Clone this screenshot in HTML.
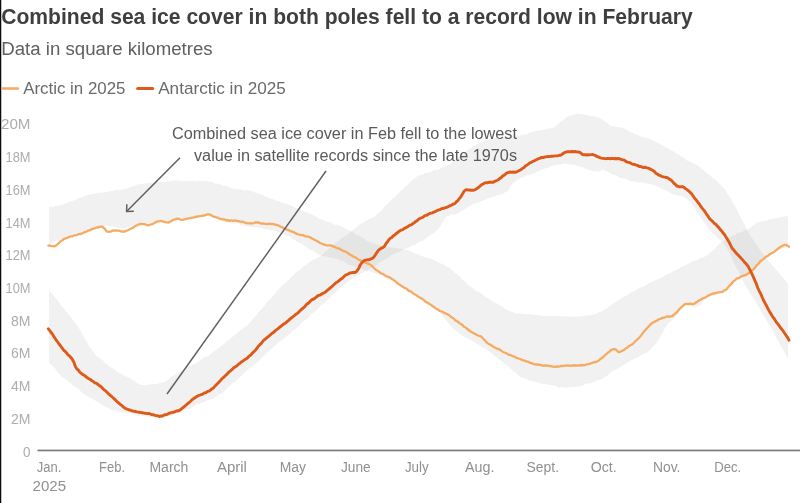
<!DOCTYPE html>
<html lang="en"><head><meta charset="utf-8"><title>Sea ice cover</title>
<style>html,body{margin:0;padding:0;background:#fff;overflow:hidden}body{width:800px;height:503px}</style></head>
<body>
<svg width="800" height="503" viewBox="0 0 800 503" style="display:block;font-family:'Liberation Sans',sans-serif">
<rect width="800" height="503" fill="#fff"/>
<rect x="0" y="0" width="1.25" height="503" fill="#0a0a0a"/>
<defs><clipPath id="arcclip"><path d="M49.0,207.3 L51.0,206.8 L53.0,207.0 L55.0,206.1 L57.0,206.2 L59.0,205.6 L61.0,204.8 L63.0,204.7 L65.0,203.6 L67.0,203.2 L69.0,202.0 L71.0,201.2 L73.0,200.7 L75.0,200.3 L77.0,198.8 L79.0,198.0 L81.0,197.5 L83.0,196.9 L85.0,195.7 L87.0,194.9 L89.0,195.0 L91.0,193.7 L93.0,194.2 L95.0,193.4 L97.0,193.0 L99.0,192.8 L101.0,192.6 L103.0,192.8 L105.0,191.9 L107.0,191.9 L109.0,191.6 L111.0,191.0 L113.0,190.9 L115.0,190.1 L117.0,189.9 L119.0,189.8 L121.0,190.0 L123.0,189.4 L125.0,188.8 L127.0,188.5 L129.0,187.7 L131.0,186.8 L133.0,186.6 L135.0,185.7 L137.0,184.6 L139.0,184.3 L141.0,183.8 L143.0,183.9 L145.0,183.6 L147.0,183.0 L149.0,183.6 L151.0,182.5 L153.0,182.7 L155.0,182.8 L157.0,182.1 L159.0,182.3 L161.0,181.6 L163.0,182.1 L165.0,181.9 L167.0,181.4 L169.0,181.4 L171.0,180.6 L173.0,180.8 L175.0,180.6 L177.0,180.6 L179.0,180.6 L181.0,181.1 L183.0,181.3 L185.0,180.9 L187.0,181.2 L189.0,180.6 L191.0,181.2 L193.0,181.1 L195.0,181.5 L197.0,181.3 L199.0,180.8 L201.0,180.9 L203.0,181.3 L205.0,180.8 L207.0,181.6 L209.0,181.6 L211.0,181.9 L213.0,182.3 L215.0,183.5 L217.0,183.4 L219.0,184.0 L221.0,184.8 L223.0,185.8 L225.0,185.6 L227.0,186.5 L229.0,187.1 L231.0,188.0 L233.0,188.4 L235.0,188.9 L237.0,188.8 L239.0,189.3 L241.0,189.5 L243.0,190.3 L245.0,190.6 L247.0,190.1 L249.0,190.4 L251.0,191.0 L253.0,191.6 L255.0,192.5 L257.0,193.3 L259.0,193.7 L261.0,194.1 L263.0,195.3 L265.0,196.0 L267.0,197.0 L269.0,198.2 L271.0,198.7 L273.0,199.3 L275.0,200.1 L277.0,200.9 L279.0,200.9 L281.0,202.3 L283.0,202.9 L285.0,203.6 L287.0,204.3 L289.0,204.7 L291.0,205.6 L293.0,206.3 L295.0,207.8 L297.0,208.2 L299.0,209.1 L301.0,210.1 L303.0,210.9 L305.0,211.9 L307.0,212.5 L309.0,213.2 L311.0,214.2 L313.0,215.0 L315.0,216.2 L317.0,216.9 L319.0,218.7 L321.0,219.4 L323.0,219.8 L325.0,220.8 L327.0,221.6 L329.0,222.3 L331.0,222.6 L333.0,224.0 L335.0,224.7 L337.0,224.8 L339.0,225.6 L341.0,226.0 L343.0,227.0 L345.0,228.2 L347.0,229.2 L349.0,230.8 L351.0,231.2 L353.0,232.1 L355.0,234.2 L357.0,234.9 L359.0,235.6 L361.0,237.2 L363.0,237.8 L365.0,239.4 L367.0,240.9 L369.0,241.8 L371.0,242.6 L373.0,243.0 L375.0,243.9 L377.0,244.3 L379.0,245.4 L381.0,245.6 L383.0,246.2 L385.0,246.1 L387.0,246.2 L389.0,247.0 L391.0,247.4 L393.0,247.6 L395.0,247.8 L397.0,248.2 L399.0,248.5 L401.0,248.5 L403.0,249.3 L405.0,249.7 L407.0,250.0 L409.0,250.6 L411.0,251.6 L413.0,252.2 L415.0,253.3 L417.0,254.3 L419.0,254.6 L421.0,255.8 L423.0,256.6 L425.0,257.3 L427.0,257.5 L429.0,258.1 L431.0,258.8 L433.0,259.5 L435.0,260.3 L437.0,261.5 L439.0,262.7 L441.0,263.5 L443.0,264.1 L445.0,265.4 L447.0,266.7 L449.0,267.2 L451.0,269.3 L453.0,271.2 L455.0,272.8 L457.0,274.6 L459.0,276.1 L461.0,277.6 L463.0,280.0 L465.0,281.4 L467.0,283.7 L469.0,285.6 L471.0,286.7 L473.0,288.3 L475.0,290.2 L477.0,291.4 L479.0,292.1 L481.0,293.3 L483.0,294.7 L485.0,296.7 L487.0,297.9 L489.0,298.4 L491.0,300.4 L493.0,301.7 L495.0,302.7 L497.0,303.6 L499.0,305.1 L501.0,306.0 L503.0,307.1 L505.0,309.3 L507.0,310.0 L509.0,310.7 L511.0,311.8 L513.0,312.0 L515.0,312.9 L517.0,313.4 L519.0,313.2 L521.0,313.5 L523.0,313.9 L525.0,314.0 L527.0,314.5 L529.0,314.3 L531.0,314.6 L533.0,314.4 L535.0,315.3 L537.0,314.8 L539.0,315.1 L541.0,315.4 L543.0,315.9 L545.0,315.6 L547.0,316.2 L549.0,315.9 L551.0,316.1 L553.0,316.2 L555.0,315.7 L557.0,316.2 L559.0,316.0 L561.0,315.9 L563.0,316.7 L565.0,316.1 L567.0,316.4 L569.0,316.7 L571.0,316.5 L573.0,316.3 L575.0,316.5 L577.0,316.5 L579.0,316.7 L581.0,315.9 L583.0,316.2 L585.0,315.7 L587.0,315.4 L589.0,315.6 L591.0,314.9 L593.0,314.4 L595.0,314.1 L597.0,313.6 L599.0,312.3 L601.0,311.7 L603.0,310.5 L605.0,309.4 L607.0,308.3 L609.0,306.6 L611.0,305.3 L613.0,303.7 L615.0,302.8 L617.0,301.1 L619.0,300.0 L621.0,298.8 L623.0,297.0 L625.0,296.2 L627.0,295.4 L629.0,294.2 L631.0,292.4 L633.0,291.4 L635.0,290.6 L637.0,289.2 L639.0,288.3 L641.0,287.1 L643.0,286.7 L645.0,285.8 L647.0,284.8 L649.0,283.1 L651.0,282.6 L653.0,281.6 L655.0,280.1 L657.0,279.8 L659.0,278.9 L661.0,277.2 L663.0,276.9 L665.0,275.4 L667.0,274.5 L669.0,274.0 L671.0,272.8 L673.0,271.2 L675.0,270.4 L677.0,269.5 L679.0,268.3 L681.0,267.2 L683.0,266.3 L685.0,265.7 L687.0,264.0 L689.0,263.6 L691.0,262.4 L693.0,261.0 L695.0,260.5 L697.0,259.9 L699.0,259.0 L701.0,257.7 L703.0,257.7 L705.0,256.5 L707.0,255.6 L709.0,253.5 L711.0,252.2 L713.0,250.2 L715.0,248.8 L717.0,246.1 L719.0,243.9 L721.0,242.3 L723.0,241.3 L725.0,239.8 L727.0,238.1 L729.0,237.0 L731.0,236.9 L733.0,235.6 L735.0,234.9 L737.0,233.5 L739.0,232.6 L741.0,232.5 L743.0,231.3 L745.0,230.1 L747.0,229.9 L749.0,228.4 L751.0,227.2 L753.0,225.0 L755.0,224.4 L757.0,222.6 L759.0,222.6 L761.0,221.6 L763.0,221.0 L765.0,220.8 L767.0,220.7 L769.0,219.6 L771.0,219.0 L773.0,219.1 L775.0,218.4 L777.0,218.0 L779.0,217.7 L781.0,217.1 L783.0,216.8 L785.0,216.5 L787.0,216.0 L788.0,216.3 L788.0,245.9 L787.0,246.6 L785.0,246.9 L783.0,248.4 L781.0,249.5 L779.0,249.6 L777.0,250.7 L775.0,252.4 L773.0,253.7 L771.0,254.6 L769.0,256.1 L767.0,257.5 L765.0,258.5 L763.0,259.7 L761.0,261.4 L759.0,263.5 L757.0,266.5 L755.0,267.9 L753.0,270.2 L751.0,271.8 L749.0,274.2 L747.0,275.1 L745.0,275.8 L743.0,276.5 L741.0,277.3 L739.0,278.5 L737.0,280.1 L735.0,280.8 L733.0,283.1 L731.0,284.7 L729.0,287.0 L727.0,289.7 L725.0,290.8 L723.0,292.6 L721.0,292.5 L719.0,293.3 L717.0,293.9 L715.0,294.4 L713.0,294.3 L711.0,295.6 L709.0,296.1 L707.0,297.1 L705.0,298.5 L703.0,301.3 L701.0,304.5 L699.0,305.9 L697.0,306.4 L695.0,306.9 L693.0,306.9 L691.0,306.0 L689.0,304.8 L687.0,304.8 L685.0,305.9 L683.0,307.8 L681.0,309.5 L679.0,312.2 L677.0,315.2 L675.0,317.9 L673.0,319.4 L671.0,321.3 L669.0,322.6 L667.0,324.8 L665.0,327.8 L663.0,332.2 L661.0,335.6 L659.0,338.9 L657.0,341.9 L655.0,344.5 L653.0,346.5 L651.0,348.7 L649.0,351.1 L647.0,352.5 L645.0,353.3 L643.0,354.2 L641.0,355.3 L639.0,356.6 L637.0,357.9 L635.0,358.3 L633.0,359.9 L631.0,360.3 L629.0,361.8 L627.0,362.8 L625.0,364.3 L623.0,365.3 L621.0,366.6 L619.0,368.1 L617.0,369.1 L615.0,370.1 L613.0,371.0 L611.0,372.2 L609.0,373.7 L607.0,375.8 L605.0,377.0 L603.0,378.2 L601.0,379.4 L599.0,379.9 L597.0,380.3 L595.0,381.6 L593.0,382.2 L591.0,383.2 L589.0,383.6 L587.0,383.5 L585.0,384.1 L583.0,385.6 L581.0,386.1 L579.0,386.7 L577.0,386.6 L575.0,386.9 L573.0,387.0 L571.0,387.2 L569.0,387.2 L567.0,387.9 L565.0,387.6 L563.0,387.5 L561.0,387.1 L559.0,387.7 L557.0,386.6 L555.0,385.8 L553.0,385.6 L551.0,385.1 L549.0,384.8 L547.0,384.3 L545.0,384.0 L543.0,384.0 L541.0,383.7 L539.0,383.0 L537.0,382.3 L535.0,381.8 L533.0,381.2 L531.0,381.0 L529.0,380.2 L527.0,379.6 L525.0,378.6 L523.0,377.9 L521.0,377.2 L519.0,375.7 L517.0,373.6 L515.0,372.3 L513.0,371.2 L511.0,368.9 L509.0,367.3 L507.0,365.6 L505.0,364.1 L503.0,362.5 L501.0,360.6 L499.0,359.4 L497.0,357.4 L495.0,356.5 L493.0,354.7 L491.0,352.7 L489.0,351.3 L487.0,350.0 L485.0,348.3 L483.0,347.8 L481.0,345.7 L479.0,344.7 L477.0,343.8 L475.0,342.8 L473.0,341.3 L471.0,340.5 L469.0,338.7 L467.0,338.3 L465.0,337.0 L463.0,336.1 L461.0,334.7 L459.0,333.0 L457.0,331.6 L455.0,330.1 L453.0,328.4 L451.0,325.9 L449.0,323.6 L447.0,321.5 L445.0,318.6 L443.0,316.0 L441.0,314.2 L439.0,311.0 L437.0,309.3 L435.0,306.9 L433.0,305.5 L431.0,304.5 L429.0,303.4 L427.0,302.2 L425.0,301.1 L423.0,300.2 L421.0,298.3 L419.0,296.9 L417.0,295.5 L415.0,294.8 L413.0,293.4 L411.0,292.3 L409.0,290.2 L407.0,289.7 L405.0,288.4 L403.0,286.4 L401.0,286.0 L399.0,284.2 L397.0,282.8 L395.0,281.2 L393.0,280.0 L391.0,279.0 L389.0,278.1 L387.0,277.0 L385.0,276.2 L383.0,275.7 L381.0,275.3 L379.0,273.9 L377.0,273.7 L375.0,273.3 L373.0,272.4 L371.0,272.1 L369.0,270.8 L367.0,271.1 L365.0,270.2 L363.0,269.2 L361.0,269.1 L359.0,268.1 L357.0,268.2 L355.0,266.8 L353.0,266.1 L351.0,265.4 L349.0,265.0 L347.0,263.7 L345.0,262.3 L343.0,260.7 L341.0,260.7 L339.0,260.0 L337.0,258.6 L335.0,258.8 L333.0,257.7 L331.0,257.7 L329.0,257.3 L327.0,257.0 L325.0,256.3 L323.0,256.2 L321.0,255.5 L319.0,254.6 L317.0,253.3 L315.0,252.0 L313.0,250.9 L311.0,250.3 L309.0,248.9 L307.0,248.1 L305.0,246.3 L303.0,244.8 L301.0,243.4 L299.0,242.7 L297.0,241.4 L295.0,240.2 L293.0,238.9 L291.0,237.5 L289.0,236.3 L287.0,235.5 L285.0,235.1 L283.0,234.1 L281.0,232.9 L279.0,232.7 L277.0,231.6 L275.0,230.9 L273.0,230.5 L271.0,230.5 L269.0,229.3 L267.0,229.5 L265.0,228.9 L263.0,228.4 L261.0,228.3 L259.0,228.0 L257.0,226.9 L255.0,227.2 L253.0,227.1 L251.0,226.9 L249.0,226.6 L247.0,226.3 L245.0,226.3 L243.0,225.2 L241.0,225.1 L239.0,224.3 L237.0,223.5 L235.0,223.3 L233.0,223.5 L231.0,223.2 L229.0,223.2 L227.0,222.6 L225.0,222.3 L223.0,221.7 L221.0,221.0 L219.0,219.8 L217.0,219.0 L215.0,217.6 L213.0,217.0 L211.0,215.4 L209.0,214.6 L207.0,215.0 L205.0,215.3 L203.0,215.0 L201.0,216.0 L199.0,216.4 L197.0,216.1 L195.0,217.3 L193.0,217.0 L191.0,217.4 L189.0,218.1 L187.0,218.2 L185.0,218.2 L183.0,218.3 L181.0,218.0 L179.0,218.1 L177.0,217.7 L175.0,218.4 L173.0,219.3 L171.0,220.4 L169.0,220.9 L167.0,220.4 L165.0,220.3 L163.0,219.7 L161.0,220.0 L159.0,219.8 L157.0,220.8 L155.0,221.7 L153.0,222.6 L151.0,222.9 L149.0,223.3 L147.0,223.2 L145.0,223.7 L143.0,222.9 L141.0,223.1 L139.0,223.6 L137.0,224.1 L135.0,224.4 L133.0,225.6 L131.0,226.3 L129.0,227.3 L127.0,227.6 L125.0,227.7 L123.0,227.7 L121.0,227.9 L119.0,227.9 L117.0,227.6 L115.0,226.6 L113.0,226.4 L111.0,226.1 L109.0,226.4 L107.0,225.6 L105.0,225.7 L103.0,225.7 L101.0,226.3 L99.0,226.9 L97.0,227.7 L95.0,228.4 L93.0,229.2 L91.0,229.4 L89.0,230.8 L87.0,231.2 L85.0,231.7 L83.0,232.2 L81.0,233.3 L79.0,233.7 L77.0,234.3 L75.0,235.3 L73.0,235.3 L71.0,236.8 L69.0,237.0 L67.0,237.3 L65.0,238.4 L63.0,239.2 L61.0,239.2 L59.0,240.1 L57.0,240.6 L55.0,241.6 L53.0,242.2 L51.0,243.3 L49.0,243.8Z"/></clipPath></defs>
<path d="M49.0,207.3 L51.0,206.8 L53.0,207.0 L55.0,206.1 L57.0,206.2 L59.0,205.6 L61.0,204.8 L63.0,204.7 L65.0,203.6 L67.0,203.2 L69.0,202.0 L71.0,201.2 L73.0,200.7 L75.0,200.3 L77.0,198.8 L79.0,198.0 L81.0,197.5 L83.0,196.9 L85.0,195.7 L87.0,194.9 L89.0,195.0 L91.0,193.7 L93.0,194.2 L95.0,193.4 L97.0,193.0 L99.0,192.8 L101.0,192.6 L103.0,192.8 L105.0,191.9 L107.0,191.9 L109.0,191.6 L111.0,191.0 L113.0,190.9 L115.0,190.1 L117.0,189.9 L119.0,189.8 L121.0,190.0 L123.0,189.4 L125.0,188.8 L127.0,188.5 L129.0,187.7 L131.0,186.8 L133.0,186.6 L135.0,185.7 L137.0,184.6 L139.0,184.3 L141.0,183.8 L143.0,183.9 L145.0,183.6 L147.0,183.0 L149.0,183.6 L151.0,182.5 L153.0,182.7 L155.0,182.8 L157.0,182.1 L159.0,182.3 L161.0,181.6 L163.0,182.1 L165.0,181.9 L167.0,181.4 L169.0,181.4 L171.0,180.6 L173.0,180.8 L175.0,180.6 L177.0,180.6 L179.0,180.6 L181.0,181.1 L183.0,181.3 L185.0,180.9 L187.0,181.2 L189.0,180.6 L191.0,181.2 L193.0,181.1 L195.0,181.5 L197.0,181.3 L199.0,180.8 L201.0,180.9 L203.0,181.3 L205.0,180.8 L207.0,181.6 L209.0,181.6 L211.0,181.9 L213.0,182.3 L215.0,183.5 L217.0,183.4 L219.0,184.0 L221.0,184.8 L223.0,185.8 L225.0,185.6 L227.0,186.5 L229.0,187.1 L231.0,188.0 L233.0,188.4 L235.0,188.9 L237.0,188.8 L239.0,189.3 L241.0,189.5 L243.0,190.3 L245.0,190.6 L247.0,190.1 L249.0,190.4 L251.0,191.0 L253.0,191.6 L255.0,192.5 L257.0,193.3 L259.0,193.7 L261.0,194.1 L263.0,195.3 L265.0,196.0 L267.0,197.0 L269.0,198.2 L271.0,198.7 L273.0,199.3 L275.0,200.1 L277.0,200.9 L279.0,200.9 L281.0,202.3 L283.0,202.9 L285.0,203.6 L287.0,204.3 L289.0,204.7 L291.0,205.6 L293.0,206.3 L295.0,207.8 L297.0,208.2 L299.0,209.1 L301.0,210.1 L303.0,210.9 L305.0,211.9 L307.0,212.5 L309.0,213.2 L311.0,214.2 L313.0,215.0 L315.0,216.2 L317.0,216.9 L319.0,218.7 L321.0,219.4 L323.0,219.8 L325.0,220.8 L327.0,221.6 L329.0,222.3 L331.0,222.6 L333.0,224.0 L335.0,224.7 L337.0,224.8 L339.0,225.6 L341.0,226.0 L343.0,227.0 L345.0,228.2 L347.0,229.2 L349.0,230.8 L351.0,231.2 L353.0,232.1 L355.0,234.2 L357.0,234.9 L359.0,235.6 L361.0,237.2 L363.0,237.8 L365.0,239.4 L367.0,240.9 L369.0,241.8 L371.0,242.6 L373.0,243.0 L375.0,243.9 L377.0,244.3 L379.0,245.4 L381.0,245.6 L383.0,246.2 L385.0,246.1 L387.0,246.2 L389.0,247.0 L391.0,247.4 L393.0,247.6 L395.0,247.8 L397.0,248.2 L399.0,248.5 L401.0,248.5 L403.0,249.3 L405.0,249.7 L407.0,250.0 L409.0,250.6 L411.0,251.6 L413.0,252.2 L415.0,253.3 L417.0,254.3 L419.0,254.6 L421.0,255.8 L423.0,256.6 L425.0,257.3 L427.0,257.5 L429.0,258.1 L431.0,258.8 L433.0,259.5 L435.0,260.3 L437.0,261.5 L439.0,262.7 L441.0,263.5 L443.0,264.1 L445.0,265.4 L447.0,266.7 L449.0,267.2 L451.0,269.3 L453.0,271.2 L455.0,272.8 L457.0,274.6 L459.0,276.1 L461.0,277.6 L463.0,280.0 L465.0,281.4 L467.0,283.7 L469.0,285.6 L471.0,286.7 L473.0,288.3 L475.0,290.2 L477.0,291.4 L479.0,292.1 L481.0,293.3 L483.0,294.7 L485.0,296.7 L487.0,297.9 L489.0,298.4 L491.0,300.4 L493.0,301.7 L495.0,302.7 L497.0,303.6 L499.0,305.1 L501.0,306.0 L503.0,307.1 L505.0,309.3 L507.0,310.0 L509.0,310.7 L511.0,311.8 L513.0,312.0 L515.0,312.9 L517.0,313.4 L519.0,313.2 L521.0,313.5 L523.0,313.9 L525.0,314.0 L527.0,314.5 L529.0,314.3 L531.0,314.6 L533.0,314.4 L535.0,315.3 L537.0,314.8 L539.0,315.1 L541.0,315.4 L543.0,315.9 L545.0,315.6 L547.0,316.2 L549.0,315.9 L551.0,316.1 L553.0,316.2 L555.0,315.7 L557.0,316.2 L559.0,316.0 L561.0,315.9 L563.0,316.7 L565.0,316.1 L567.0,316.4 L569.0,316.7 L571.0,316.5 L573.0,316.3 L575.0,316.5 L577.0,316.5 L579.0,316.7 L581.0,315.9 L583.0,316.2 L585.0,315.7 L587.0,315.4 L589.0,315.6 L591.0,314.9 L593.0,314.4 L595.0,314.1 L597.0,313.6 L599.0,312.3 L601.0,311.7 L603.0,310.5 L605.0,309.4 L607.0,308.3 L609.0,306.6 L611.0,305.3 L613.0,303.7 L615.0,302.8 L617.0,301.1 L619.0,300.0 L621.0,298.8 L623.0,297.0 L625.0,296.2 L627.0,295.4 L629.0,294.2 L631.0,292.4 L633.0,291.4 L635.0,290.6 L637.0,289.2 L639.0,288.3 L641.0,287.1 L643.0,286.7 L645.0,285.8 L647.0,284.8 L649.0,283.1 L651.0,282.6 L653.0,281.6 L655.0,280.1 L657.0,279.8 L659.0,278.9 L661.0,277.2 L663.0,276.9 L665.0,275.4 L667.0,274.5 L669.0,274.0 L671.0,272.8 L673.0,271.2 L675.0,270.4 L677.0,269.5 L679.0,268.3 L681.0,267.2 L683.0,266.3 L685.0,265.7 L687.0,264.0 L689.0,263.6 L691.0,262.4 L693.0,261.0 L695.0,260.5 L697.0,259.9 L699.0,259.0 L701.0,257.7 L703.0,257.7 L705.0,256.5 L707.0,255.6 L709.0,253.5 L711.0,252.2 L713.0,250.2 L715.0,248.8 L717.0,246.1 L719.0,243.9 L721.0,242.3 L723.0,241.3 L725.0,239.8 L727.0,238.1 L729.0,237.0 L731.0,236.9 L733.0,235.6 L735.0,234.9 L737.0,233.5 L739.0,232.6 L741.0,232.5 L743.0,231.3 L745.0,230.1 L747.0,229.9 L749.0,228.4 L751.0,227.2 L753.0,225.0 L755.0,224.4 L757.0,222.6 L759.0,222.6 L761.0,221.6 L763.0,221.0 L765.0,220.8 L767.0,220.7 L769.0,219.6 L771.0,219.0 L773.0,219.1 L775.0,218.4 L777.0,218.0 L779.0,217.7 L781.0,217.1 L783.0,216.8 L785.0,216.5 L787.0,216.0 L788.0,216.3 L788.0,245.9 L787.0,246.6 L785.0,246.9 L783.0,248.4 L781.0,249.5 L779.0,249.6 L777.0,250.7 L775.0,252.4 L773.0,253.7 L771.0,254.6 L769.0,256.1 L767.0,257.5 L765.0,258.5 L763.0,259.7 L761.0,261.4 L759.0,263.5 L757.0,266.5 L755.0,267.9 L753.0,270.2 L751.0,271.8 L749.0,274.2 L747.0,275.1 L745.0,275.8 L743.0,276.5 L741.0,277.3 L739.0,278.5 L737.0,280.1 L735.0,280.8 L733.0,283.1 L731.0,284.7 L729.0,287.0 L727.0,289.7 L725.0,290.8 L723.0,292.6 L721.0,292.5 L719.0,293.3 L717.0,293.9 L715.0,294.4 L713.0,294.3 L711.0,295.6 L709.0,296.1 L707.0,297.1 L705.0,298.5 L703.0,301.3 L701.0,304.5 L699.0,305.9 L697.0,306.4 L695.0,306.9 L693.0,306.9 L691.0,306.0 L689.0,304.8 L687.0,304.8 L685.0,305.9 L683.0,307.8 L681.0,309.5 L679.0,312.2 L677.0,315.2 L675.0,317.9 L673.0,319.4 L671.0,321.3 L669.0,322.6 L667.0,324.8 L665.0,327.8 L663.0,332.2 L661.0,335.6 L659.0,338.9 L657.0,341.9 L655.0,344.5 L653.0,346.5 L651.0,348.7 L649.0,351.1 L647.0,352.5 L645.0,353.3 L643.0,354.2 L641.0,355.3 L639.0,356.6 L637.0,357.9 L635.0,358.3 L633.0,359.9 L631.0,360.3 L629.0,361.8 L627.0,362.8 L625.0,364.3 L623.0,365.3 L621.0,366.6 L619.0,368.1 L617.0,369.1 L615.0,370.1 L613.0,371.0 L611.0,372.2 L609.0,373.7 L607.0,375.8 L605.0,377.0 L603.0,378.2 L601.0,379.4 L599.0,379.9 L597.0,380.3 L595.0,381.6 L593.0,382.2 L591.0,383.2 L589.0,383.6 L587.0,383.5 L585.0,384.1 L583.0,385.6 L581.0,386.1 L579.0,386.7 L577.0,386.6 L575.0,386.9 L573.0,387.0 L571.0,387.2 L569.0,387.2 L567.0,387.9 L565.0,387.6 L563.0,387.5 L561.0,387.1 L559.0,387.7 L557.0,386.6 L555.0,385.8 L553.0,385.6 L551.0,385.1 L549.0,384.8 L547.0,384.3 L545.0,384.0 L543.0,384.0 L541.0,383.7 L539.0,383.0 L537.0,382.3 L535.0,381.8 L533.0,381.2 L531.0,381.0 L529.0,380.2 L527.0,379.6 L525.0,378.6 L523.0,377.9 L521.0,377.2 L519.0,375.7 L517.0,373.6 L515.0,372.3 L513.0,371.2 L511.0,368.9 L509.0,367.3 L507.0,365.6 L505.0,364.1 L503.0,362.5 L501.0,360.6 L499.0,359.4 L497.0,357.4 L495.0,356.5 L493.0,354.7 L491.0,352.7 L489.0,351.3 L487.0,350.0 L485.0,348.3 L483.0,347.8 L481.0,345.7 L479.0,344.7 L477.0,343.8 L475.0,342.8 L473.0,341.3 L471.0,340.5 L469.0,338.7 L467.0,338.3 L465.0,337.0 L463.0,336.1 L461.0,334.7 L459.0,333.0 L457.0,331.6 L455.0,330.1 L453.0,328.4 L451.0,325.9 L449.0,323.6 L447.0,321.5 L445.0,318.6 L443.0,316.0 L441.0,314.2 L439.0,311.0 L437.0,309.3 L435.0,306.9 L433.0,305.5 L431.0,304.5 L429.0,303.4 L427.0,302.2 L425.0,301.1 L423.0,300.2 L421.0,298.3 L419.0,296.9 L417.0,295.5 L415.0,294.8 L413.0,293.4 L411.0,292.3 L409.0,290.2 L407.0,289.7 L405.0,288.4 L403.0,286.4 L401.0,286.0 L399.0,284.2 L397.0,282.8 L395.0,281.2 L393.0,280.0 L391.0,279.0 L389.0,278.1 L387.0,277.0 L385.0,276.2 L383.0,275.7 L381.0,275.3 L379.0,273.9 L377.0,273.7 L375.0,273.3 L373.0,272.4 L371.0,272.1 L369.0,270.8 L367.0,271.1 L365.0,270.2 L363.0,269.2 L361.0,269.1 L359.0,268.1 L357.0,268.2 L355.0,266.8 L353.0,266.1 L351.0,265.4 L349.0,265.0 L347.0,263.7 L345.0,262.3 L343.0,260.7 L341.0,260.7 L339.0,260.0 L337.0,258.6 L335.0,258.8 L333.0,257.7 L331.0,257.7 L329.0,257.3 L327.0,257.0 L325.0,256.3 L323.0,256.2 L321.0,255.5 L319.0,254.6 L317.0,253.3 L315.0,252.0 L313.0,250.9 L311.0,250.3 L309.0,248.9 L307.0,248.1 L305.0,246.3 L303.0,244.8 L301.0,243.4 L299.0,242.7 L297.0,241.4 L295.0,240.2 L293.0,238.9 L291.0,237.5 L289.0,236.3 L287.0,235.5 L285.0,235.1 L283.0,234.1 L281.0,232.9 L279.0,232.7 L277.0,231.6 L275.0,230.9 L273.0,230.5 L271.0,230.5 L269.0,229.3 L267.0,229.5 L265.0,228.9 L263.0,228.4 L261.0,228.3 L259.0,228.0 L257.0,226.9 L255.0,227.2 L253.0,227.1 L251.0,226.9 L249.0,226.6 L247.0,226.3 L245.0,226.3 L243.0,225.2 L241.0,225.1 L239.0,224.3 L237.0,223.5 L235.0,223.3 L233.0,223.5 L231.0,223.2 L229.0,223.2 L227.0,222.6 L225.0,222.3 L223.0,221.7 L221.0,221.0 L219.0,219.8 L217.0,219.0 L215.0,217.6 L213.0,217.0 L211.0,215.4 L209.0,214.6 L207.0,215.0 L205.0,215.3 L203.0,215.0 L201.0,216.0 L199.0,216.4 L197.0,216.1 L195.0,217.3 L193.0,217.0 L191.0,217.4 L189.0,218.1 L187.0,218.2 L185.0,218.2 L183.0,218.3 L181.0,218.0 L179.0,218.1 L177.0,217.7 L175.0,218.4 L173.0,219.3 L171.0,220.4 L169.0,220.9 L167.0,220.4 L165.0,220.3 L163.0,219.7 L161.0,220.0 L159.0,219.8 L157.0,220.8 L155.0,221.7 L153.0,222.6 L151.0,222.9 L149.0,223.3 L147.0,223.2 L145.0,223.7 L143.0,222.9 L141.0,223.1 L139.0,223.6 L137.0,224.1 L135.0,224.4 L133.0,225.6 L131.0,226.3 L129.0,227.3 L127.0,227.6 L125.0,227.7 L123.0,227.7 L121.0,227.9 L119.0,227.9 L117.0,227.6 L115.0,226.6 L113.0,226.4 L111.0,226.1 L109.0,226.4 L107.0,225.6 L105.0,225.7 L103.0,225.7 L101.0,226.3 L99.0,226.9 L97.0,227.7 L95.0,228.4 L93.0,229.2 L91.0,229.4 L89.0,230.8 L87.0,231.2 L85.0,231.7 L83.0,232.2 L81.0,233.3 L79.0,233.7 L77.0,234.3 L75.0,235.3 L73.0,235.3 L71.0,236.8 L69.0,237.0 L67.0,237.3 L65.0,238.4 L63.0,239.2 L61.0,239.2 L59.0,240.1 L57.0,240.6 L55.0,241.6 L53.0,242.2 L51.0,243.3 L49.0,243.8Z" fill="#f1f1f1"/>
<path d="M49.0,289.9 L51.0,292.3 L53.0,294.7 L55.0,297.0 L57.0,299.8 L59.0,302.4 L61.0,305.5 L63.0,307.1 L65.0,310.5 L67.0,312.2 L69.0,314.7 L71.0,317.6 L73.0,320.2 L75.0,322.4 L77.0,324.9 L79.0,328.4 L81.0,331.6 L83.0,335.8 L85.0,338.7 L87.0,342.4 L89.0,346.1 L91.0,348.2 L93.0,351.4 L95.0,354.3 L97.0,356.4 L99.0,357.4 L101.0,359.0 L103.0,360.5 L105.0,362.9 L107.0,363.8 L109.0,365.9 L111.0,367.6 L113.0,368.5 L115.0,369.8 L117.0,371.8 L119.0,372.7 L121.0,373.5 L123.0,375.1 L125.0,375.8 L127.0,376.8 L129.0,377.4 L131.0,379.1 L133.0,380.2 L135.0,381.1 L137.0,383.3 L139.0,384.2 L141.0,384.7 L143.0,385.0 L145.0,385.4 L147.0,385.3 L149.0,384.6 L151.0,384.3 L153.0,384.2 L155.0,384.0 L157.0,384.2 L159.0,383.2 L161.0,383.3 L163.0,382.6 L165.0,381.8 L167.0,380.4 L169.0,378.8 L171.0,377.1 L173.0,375.9 L175.0,374.8 L177.0,374.0 L179.0,372.2 L181.0,371.2 L183.0,370.6 L185.0,369.0 L187.0,367.7 L189.0,366.5 L191.0,365.8 L193.0,364.4 L195.0,363.9 L197.0,362.6 L199.0,361.5 L201.0,359.6 L203.0,358.3 L205.0,357.1 L207.0,356.4 L209.0,355.3 L211.0,353.8 L213.0,352.1 L215.0,350.8 L217.0,349.4 L219.0,347.8 L221.0,346.2 L223.0,344.6 L225.0,342.9 L227.0,340.7 L229.0,339.8 L231.0,337.7 L233.0,336.4 L235.0,334.6 L237.0,333.4 L239.0,331.4 L241.0,329.9 L243.0,328.4 L245.0,326.8 L247.0,325.8 L249.0,323.5 L251.0,321.0 L253.0,318.8 L255.0,317.0 L257.0,314.2 L259.0,311.5 L261.0,309.7 L263.0,307.2 L265.0,305.2 L267.0,302.0 L269.0,300.1 L271.0,298.1 L273.0,295.9 L275.0,293.8 L277.0,290.8 L279.0,288.9 L281.0,286.7 L283.0,284.8 L285.0,283.6 L287.0,281.3 L289.0,279.7 L291.0,277.2 L293.0,275.8 L295.0,273.5 L297.0,271.5 L299.0,270.4 L301.0,268.9 L303.0,266.5 L305.0,265.5 L307.0,264.1 L309.0,262.4 L311.0,261.2 L313.0,259.9 L315.0,259.0 L317.0,258.1 L319.0,257.3 L321.0,255.8 L323.0,253.8 L325.0,251.8 L327.0,250.3 L329.0,248.8 L331.0,246.5 L333.0,244.9 L335.0,243.1 L337.0,242.2 L339.0,240.5 L341.0,238.6 L343.0,237.3 L345.0,236.2 L347.0,235.0 L349.0,233.5 L351.0,231.3 L353.0,229.7 L355.0,228.6 L357.0,226.6 L359.0,225.0 L361.0,223.6 L363.0,223.0 L365.0,221.3 L367.0,220.4 L369.0,219.1 L371.0,218.1 L373.0,217.4 L375.0,216.3 L377.0,214.3 L379.0,212.6 L381.0,211.3 L383.0,208.4 L385.0,205.8 L387.0,204.4 L389.0,201.9 L391.0,200.4 L393.0,198.2 L395.0,196.9 L397.0,194.7 L399.0,192.6 L401.0,190.6 L403.0,189.2 L405.0,187.3 L407.0,185.6 L409.0,182.9 L411.0,181.6 L413.0,179.6 L415.0,178.2 L417.0,176.5 L419.0,175.6 L421.0,175.0 L423.0,174.7 L425.0,173.1 L427.0,172.8 L429.0,172.4 L431.0,172.0 L433.0,170.6 L435.0,169.8 L437.0,169.9 L439.0,169.2 L441.0,168.1 L443.0,166.9 L445.0,167.0 L447.0,165.5 L449.0,165.0 L451.0,163.5 L453.0,162.1 L455.0,159.7 L457.0,158.5 L459.0,156.2 L461.0,154.7 L463.0,153.6 L465.0,152.3 L467.0,150.3 L469.0,149.1 L471.0,148.2 L473.0,147.1 L475.0,145.9 L477.0,144.5 L479.0,143.5 L481.0,142.9 L483.0,142.1 L485.0,140.3 L487.0,140.1 L489.0,139.6 L491.0,138.4 L493.0,138.9 L495.0,137.8 L497.0,138.0 L499.0,137.7 L501.0,137.5 L503.0,136.9 L505.0,136.8 L507.0,136.8 L509.0,136.4 L511.0,136.5 L513.0,136.1 L515.0,136.0 L517.0,135.3 L519.0,135.7 L521.0,135.3 L523.0,134.7 L525.0,134.8 L527.0,134.2 L529.0,133.1 L531.0,132.1 L533.0,131.8 L535.0,131.0 L537.0,130.7 L539.0,130.6 L541.0,129.9 L543.0,129.9 L545.0,129.5 L547.0,128.6 L549.0,128.8 L551.0,127.7 L553.0,127.7 L555.0,126.9 L557.0,125.3 L559.0,123.1 L561.0,121.6 L563.0,119.9 L565.0,118.9 L567.0,116.7 L569.0,116.2 L571.0,115.5 L573.0,114.7 L575.0,114.4 L577.0,113.6 L579.0,114.3 L581.0,113.9 L583.0,114.6 L585.0,115.0 L587.0,114.7 L589.0,115.8 L591.0,116.3 L593.0,115.7 L595.0,116.3 L597.0,117.2 L599.0,117.2 L601.0,118.9 L603.0,119.7 L605.0,121.8 L607.0,122.7 L609.0,124.5 L611.0,125.9 L613.0,125.9 L615.0,126.4 L617.0,127.1 L619.0,127.3 L621.0,127.4 L623.0,128.0 L625.0,128.7 L627.0,130.3 L629.0,131.1 L631.0,132.4 L633.0,132.7 L635.0,134.4 L637.0,134.6 L639.0,135.8 L641.0,136.5 L643.0,136.7 L645.0,137.8 L647.0,138.0 L649.0,138.7 L651.0,139.8 L653.0,139.9 L655.0,141.8 L657.0,142.4 L659.0,143.3 L661.0,144.8 L663.0,145.3 L665.0,147.1 L667.0,147.9 L669.0,148.8 L671.0,150.4 L673.0,151.2 L675.0,152.2 L677.0,154.0 L679.0,154.5 L681.0,156.6 L683.0,157.3 L685.0,158.9 L687.0,160.5 L689.0,161.2 L691.0,162.4 L693.0,163.1 L695.0,163.9 L697.0,165.1 L699.0,166.5 L701.0,168.3 L703.0,169.7 L705.0,171.4 L707.0,173.5 L709.0,174.5 L711.0,176.3 L713.0,178.5 L715.0,179.6 L717.0,181.3 L719.0,183.4 L721.0,185.0 L723.0,187.4 L725.0,189.7 L727.0,192.9 L729.0,196.0 L731.0,198.9 L733.0,202.8 L735.0,206.3 L737.0,209.6 L739.0,214.3 L741.0,217.7 L743.0,221.7 L745.0,225.6 L747.0,229.9 L749.0,233.7 L751.0,236.9 L753.0,239.6 L755.0,242.5 L757.0,245.1 L759.0,248.6 L761.0,251.2 L763.0,253.7 L765.0,256.6 L767.0,258.8 L769.0,261.8 L771.0,263.9 L773.0,265.8 L775.0,268.9 L777.0,270.5 L779.0,273.3 L781.0,275.6 L783.0,277.8 L785.0,280.0 L787.0,283.1 L788.0,283.5 L788.0,358.6 L787.0,356.9 L785.0,353.2 L783.0,349.8 L781.0,346.4 L779.0,342.2 L777.0,338.9 L775.0,335.0 L773.0,331.6 L771.0,327.6 L769.0,324.8 L767.0,321.3 L765.0,318.0 L763.0,314.4 L761.0,311.1 L759.0,307.5 L757.0,304.4 L755.0,300.3 L753.0,297.6 L751.0,294.5 L749.0,290.6 L747.0,288.0 L745.0,285.3 L743.0,281.1 L741.0,277.0 L739.0,272.8 L737.0,268.8 L735.0,265.2 L733.0,261.3 L731.0,256.0 L729.0,251.8 L727.0,248.5 L725.0,245.3 L723.0,242.0 L721.0,240.6 L719.0,239.0 L717.0,237.4 L715.0,235.0 L713.0,233.9 L711.0,231.8 L709.0,228.7 L707.0,226.4 L705.0,223.7 L703.0,220.7 L701.0,217.9 L699.0,214.8 L697.0,211.5 L695.0,208.3 L693.0,205.7 L691.0,202.5 L689.0,200.5 L687.0,198.9 L685.0,197.3 L683.0,196.5 L681.0,195.8 L679.0,196.0 L677.0,195.1 L675.0,195.1 L673.0,193.7 L671.0,193.2 L669.0,191.9 L667.0,191.0 L665.0,190.3 L663.0,189.3 L661.0,188.2 L659.0,187.0 L657.0,186.8 L655.0,185.2 L653.0,184.9 L651.0,184.1 L649.0,183.8 L647.0,183.6 L645.0,183.4 L643.0,182.6 L641.0,182.5 L639.0,182.4 L637.0,182.5 L635.0,181.4 L633.0,181.3 L631.0,181.2 L629.0,180.4 L627.0,179.4 L625.0,178.8 L623.0,178.3 L621.0,178.0 L619.0,177.0 L617.0,176.3 L615.0,175.1 L613.0,174.7 L611.0,173.5 L609.0,172.0 L607.0,171.1 L605.0,170.7 L603.0,169.2 L601.0,170.8 L599.0,171.5 L597.0,171.6 L595.0,170.9 L593.0,171.2 L591.0,170.2 L589.0,169.8 L587.0,169.4 L585.0,168.4 L583.0,167.5 L581.0,167.0 L579.0,166.3 L577.0,165.7 L575.0,164.7 L573.0,164.7 L571.0,164.7 L569.0,164.3 L567.0,163.7 L565.0,164.1 L563.0,163.6 L561.0,164.7 L559.0,164.4 L557.0,164.6 L555.0,165.4 L553.0,165.8 L551.0,166.0 L549.0,167.5 L547.0,168.0 L545.0,168.5 L543.0,169.5 L541.0,170.1 L539.0,170.8 L537.0,171.5 L535.0,172.7 L533.0,173.6 L531.0,174.5 L529.0,175.0 L527.0,175.3 L525.0,176.5 L523.0,176.9 L521.0,177.8 L519.0,178.9 L517.0,180.1 L515.0,181.6 L513.0,183.2 L511.0,185.8 L509.0,189.4 L507.0,191.5 L505.0,192.4 L503.0,193.5 L501.0,194.4 L499.0,194.7 L497.0,195.1 L495.0,196.3 L493.0,196.9 L491.0,197.4 L489.0,198.3 L487.0,198.7 L485.0,199.8 L483.0,200.7 L481.0,201.3 L479.0,202.3 L477.0,203.1 L475.0,203.5 L473.0,204.1 L471.0,205.4 L469.0,206.4 L467.0,207.5 L465.0,209.3 L463.0,210.0 L461.0,211.4 L459.0,212.7 L457.0,213.5 L455.0,214.5 L453.0,214.5 L451.0,214.5 L449.0,215.9 L447.0,215.9 L445.0,218.2 L443.0,221.8 L441.0,225.1 L439.0,228.1 L437.0,230.1 L435.0,232.2 L433.0,233.5 L431.0,234.8 L429.0,236.0 L427.0,237.3 L425.0,239.3 L423.0,240.4 L421.0,241.1 L419.0,242.1 L417.0,243.2 L415.0,244.9 L413.0,245.5 L411.0,246.1 L409.0,247.5 L407.0,248.6 L405.0,249.1 L403.0,249.7 L401.0,251.1 L399.0,251.8 L397.0,252.9 L395.0,253.2 L393.0,254.4 L391.0,255.5 L389.0,256.9 L387.0,258.3 L385.0,259.5 L383.0,260.7 L381.0,262.0 L379.0,263.1 L377.0,265.1 L375.0,265.9 L373.0,267.2 L371.0,268.7 L369.0,269.1 L367.0,270.1 L365.0,270.9 L363.0,272.8 L361.0,273.0 L359.0,274.9 L357.0,275.5 L355.0,276.6 L353.0,277.8 L351.0,279.4 L349.0,281.0 L347.0,282.5 L345.0,284.2 L343.0,285.1 L341.0,287.4 L339.0,288.7 L337.0,290.9 L335.0,292.9 L333.0,294.3 L331.0,296.3 L329.0,298.8 L327.0,299.9 L325.0,302.3 L323.0,303.7 L321.0,305.6 L319.0,307.2 L317.0,309.7 L315.0,311.2 L313.0,313.1 L311.0,314.5 L309.0,317.3 L307.0,319.0 L305.0,320.2 L303.0,321.8 L301.0,323.8 L299.0,326.2 L297.0,327.2 L295.0,329.6 L293.0,330.6 L291.0,332.6 L289.0,334.4 L287.0,335.7 L285.0,337.7 L283.0,339.0 L281.0,340.6 L279.0,341.8 L277.0,344.0 L275.0,345.8 L273.0,347.1 L271.0,349.3 L269.0,350.6 L267.0,352.7 L265.0,355.1 L263.0,356.8 L261.0,358.8 L259.0,360.4 L257.0,362.5 L255.0,364.0 L253.0,365.4 L251.0,367.5 L249.0,368.4 L247.0,370.0 L245.0,372.0 L243.0,374.1 L241.0,376.2 L239.0,377.8 L237.0,379.9 L235.0,381.7 L233.0,382.7 L231.0,384.7 L229.0,386.6 L227.0,388.3 L225.0,390.9 L223.0,392.4 L221.0,393.7 L219.0,394.2 L217.0,396.3 L215.0,397.3 L213.0,398.4 L211.0,399.0 L209.0,400.1 L207.0,400.3 L205.0,401.7 L203.0,402.4 L201.0,403.1 L199.0,404.0 L197.0,404.3 L195.0,405.3 L193.0,406.5 L191.0,407.7 L189.0,409.2 L187.0,409.3 L185.0,410.1 L183.0,411.2 L181.0,412.8 L179.0,412.8 L177.0,414.0 L175.0,414.3 L173.0,415.0 L171.0,415.8 L169.0,416.5 L167.0,416.7 L165.0,417.6 L163.0,417.7 L161.0,418.1 L159.0,417.8 L157.0,418.2 L155.0,417.8 L153.0,417.6 L151.0,417.3 L149.0,417.3 L147.0,416.3 L145.0,416.1 L143.0,416.3 L141.0,415.5 L139.0,415.6 L137.0,415.4 L135.0,414.9 L133.0,413.9 L131.0,413.5 L129.0,412.9 L127.0,413.3 L125.0,412.2 L123.0,412.6 L121.0,411.9 L119.0,411.2 L117.0,411.1 L115.0,410.9 L113.0,410.0 L111.0,409.4 L109.0,408.2 L107.0,407.6 L105.0,406.7 L103.0,405.4 L101.0,404.3 L99.0,402.8 L97.0,401.4 L95.0,400.5 L93.0,399.3 L91.0,398.3 L89.0,397.3 L87.0,396.2 L85.0,394.5 L83.0,393.3 L81.0,391.7 L79.0,389.2 L77.0,388.3 L75.0,386.8 L73.0,385.4 L71.0,383.1 L69.0,381.9 L67.0,380.5 L65.0,378.8 L63.0,377.7 L61.0,375.7 L59.0,373.5 L57.0,371.4 L55.0,368.6 L53.0,366.3 L51.0,364.7 L49.0,362.1Z" fill="#f1f1f1"/>
<path d="M49.0,289.9 L51.0,292.3 L53.0,294.7 L55.0,297.0 L57.0,299.8 L59.0,302.4 L61.0,305.5 L63.0,307.1 L65.0,310.5 L67.0,312.2 L69.0,314.7 L71.0,317.6 L73.0,320.2 L75.0,322.4 L77.0,324.9 L79.0,328.4 L81.0,331.6 L83.0,335.8 L85.0,338.7 L87.0,342.4 L89.0,346.1 L91.0,348.2 L93.0,351.4 L95.0,354.3 L97.0,356.4 L99.0,357.4 L101.0,359.0 L103.0,360.5 L105.0,362.9 L107.0,363.8 L109.0,365.9 L111.0,367.6 L113.0,368.5 L115.0,369.8 L117.0,371.8 L119.0,372.7 L121.0,373.5 L123.0,375.1 L125.0,375.8 L127.0,376.8 L129.0,377.4 L131.0,379.1 L133.0,380.2 L135.0,381.1 L137.0,383.3 L139.0,384.2 L141.0,384.7 L143.0,385.0 L145.0,385.4 L147.0,385.3 L149.0,384.6 L151.0,384.3 L153.0,384.2 L155.0,384.0 L157.0,384.2 L159.0,383.2 L161.0,383.3 L163.0,382.6 L165.0,381.8 L167.0,380.4 L169.0,378.8 L171.0,377.1 L173.0,375.9 L175.0,374.8 L177.0,374.0 L179.0,372.2 L181.0,371.2 L183.0,370.6 L185.0,369.0 L187.0,367.7 L189.0,366.5 L191.0,365.8 L193.0,364.4 L195.0,363.9 L197.0,362.6 L199.0,361.5 L201.0,359.6 L203.0,358.3 L205.0,357.1 L207.0,356.4 L209.0,355.3 L211.0,353.8 L213.0,352.1 L215.0,350.8 L217.0,349.4 L219.0,347.8 L221.0,346.2 L223.0,344.6 L225.0,342.9 L227.0,340.7 L229.0,339.8 L231.0,337.7 L233.0,336.4 L235.0,334.6 L237.0,333.4 L239.0,331.4 L241.0,329.9 L243.0,328.4 L245.0,326.8 L247.0,325.8 L249.0,323.5 L251.0,321.0 L253.0,318.8 L255.0,317.0 L257.0,314.2 L259.0,311.5 L261.0,309.7 L263.0,307.2 L265.0,305.2 L267.0,302.0 L269.0,300.1 L271.0,298.1 L273.0,295.9 L275.0,293.8 L277.0,290.8 L279.0,288.9 L281.0,286.7 L283.0,284.8 L285.0,283.6 L287.0,281.3 L289.0,279.7 L291.0,277.2 L293.0,275.8 L295.0,273.5 L297.0,271.5 L299.0,270.4 L301.0,268.9 L303.0,266.5 L305.0,265.5 L307.0,264.1 L309.0,262.4 L311.0,261.2 L313.0,259.9 L315.0,259.0 L317.0,258.1 L319.0,257.3 L321.0,255.8 L323.0,253.8 L325.0,251.8 L327.0,250.3 L329.0,248.8 L331.0,246.5 L333.0,244.9 L335.0,243.1 L337.0,242.2 L339.0,240.5 L341.0,238.6 L343.0,237.3 L345.0,236.2 L347.0,235.0 L349.0,233.5 L351.0,231.3 L353.0,229.7 L355.0,228.6 L357.0,226.6 L359.0,225.0 L361.0,223.6 L363.0,223.0 L365.0,221.3 L367.0,220.4 L369.0,219.1 L371.0,218.1 L373.0,217.4 L375.0,216.3 L377.0,214.3 L379.0,212.6 L381.0,211.3 L383.0,208.4 L385.0,205.8 L387.0,204.4 L389.0,201.9 L391.0,200.4 L393.0,198.2 L395.0,196.9 L397.0,194.7 L399.0,192.6 L401.0,190.6 L403.0,189.2 L405.0,187.3 L407.0,185.6 L409.0,182.9 L411.0,181.6 L413.0,179.6 L415.0,178.2 L417.0,176.5 L419.0,175.6 L421.0,175.0 L423.0,174.7 L425.0,173.1 L427.0,172.8 L429.0,172.4 L431.0,172.0 L433.0,170.6 L435.0,169.8 L437.0,169.9 L439.0,169.2 L441.0,168.1 L443.0,166.9 L445.0,167.0 L447.0,165.5 L449.0,165.0 L451.0,163.5 L453.0,162.1 L455.0,159.7 L457.0,158.5 L459.0,156.2 L461.0,154.7 L463.0,153.6 L465.0,152.3 L467.0,150.3 L469.0,149.1 L471.0,148.2 L473.0,147.1 L475.0,145.9 L477.0,144.5 L479.0,143.5 L481.0,142.9 L483.0,142.1 L485.0,140.3 L487.0,140.1 L489.0,139.6 L491.0,138.4 L493.0,138.9 L495.0,137.8 L497.0,138.0 L499.0,137.7 L501.0,137.5 L503.0,136.9 L505.0,136.8 L507.0,136.8 L509.0,136.4 L511.0,136.5 L513.0,136.1 L515.0,136.0 L517.0,135.3 L519.0,135.7 L521.0,135.3 L523.0,134.7 L525.0,134.8 L527.0,134.2 L529.0,133.1 L531.0,132.1 L533.0,131.8 L535.0,131.0 L537.0,130.7 L539.0,130.6 L541.0,129.9 L543.0,129.9 L545.0,129.5 L547.0,128.6 L549.0,128.8 L551.0,127.7 L553.0,127.7 L555.0,126.9 L557.0,125.3 L559.0,123.1 L561.0,121.6 L563.0,119.9 L565.0,118.9 L567.0,116.7 L569.0,116.2 L571.0,115.5 L573.0,114.7 L575.0,114.4 L577.0,113.6 L579.0,114.3 L581.0,113.9 L583.0,114.6 L585.0,115.0 L587.0,114.7 L589.0,115.8 L591.0,116.3 L593.0,115.7 L595.0,116.3 L597.0,117.2 L599.0,117.2 L601.0,118.9 L603.0,119.7 L605.0,121.8 L607.0,122.7 L609.0,124.5 L611.0,125.9 L613.0,125.9 L615.0,126.4 L617.0,127.1 L619.0,127.3 L621.0,127.4 L623.0,128.0 L625.0,128.7 L627.0,130.3 L629.0,131.1 L631.0,132.4 L633.0,132.7 L635.0,134.4 L637.0,134.6 L639.0,135.8 L641.0,136.5 L643.0,136.7 L645.0,137.8 L647.0,138.0 L649.0,138.7 L651.0,139.8 L653.0,139.9 L655.0,141.8 L657.0,142.4 L659.0,143.3 L661.0,144.8 L663.0,145.3 L665.0,147.1 L667.0,147.9 L669.0,148.8 L671.0,150.4 L673.0,151.2 L675.0,152.2 L677.0,154.0 L679.0,154.5 L681.0,156.6 L683.0,157.3 L685.0,158.9 L687.0,160.5 L689.0,161.2 L691.0,162.4 L693.0,163.1 L695.0,163.9 L697.0,165.1 L699.0,166.5 L701.0,168.3 L703.0,169.7 L705.0,171.4 L707.0,173.5 L709.0,174.5 L711.0,176.3 L713.0,178.5 L715.0,179.6 L717.0,181.3 L719.0,183.4 L721.0,185.0 L723.0,187.4 L725.0,189.7 L727.0,192.9 L729.0,196.0 L731.0,198.9 L733.0,202.8 L735.0,206.3 L737.0,209.6 L739.0,214.3 L741.0,217.7 L743.0,221.7 L745.0,225.6 L747.0,229.9 L749.0,233.7 L751.0,236.9 L753.0,239.6 L755.0,242.5 L757.0,245.1 L759.0,248.6 L761.0,251.2 L763.0,253.7 L765.0,256.6 L767.0,258.8 L769.0,261.8 L771.0,263.9 L773.0,265.8 L775.0,268.9 L777.0,270.5 L779.0,273.3 L781.0,275.6 L783.0,277.8 L785.0,280.0 L787.0,283.1 L788.0,283.5 L788.0,358.6 L787.0,356.9 L785.0,353.2 L783.0,349.8 L781.0,346.4 L779.0,342.2 L777.0,338.9 L775.0,335.0 L773.0,331.6 L771.0,327.6 L769.0,324.8 L767.0,321.3 L765.0,318.0 L763.0,314.4 L761.0,311.1 L759.0,307.5 L757.0,304.4 L755.0,300.3 L753.0,297.6 L751.0,294.5 L749.0,290.6 L747.0,288.0 L745.0,285.3 L743.0,281.1 L741.0,277.0 L739.0,272.8 L737.0,268.8 L735.0,265.2 L733.0,261.3 L731.0,256.0 L729.0,251.8 L727.0,248.5 L725.0,245.3 L723.0,242.0 L721.0,240.6 L719.0,239.0 L717.0,237.4 L715.0,235.0 L713.0,233.9 L711.0,231.8 L709.0,228.7 L707.0,226.4 L705.0,223.7 L703.0,220.7 L701.0,217.9 L699.0,214.8 L697.0,211.5 L695.0,208.3 L693.0,205.7 L691.0,202.5 L689.0,200.5 L687.0,198.9 L685.0,197.3 L683.0,196.5 L681.0,195.8 L679.0,196.0 L677.0,195.1 L675.0,195.1 L673.0,193.7 L671.0,193.2 L669.0,191.9 L667.0,191.0 L665.0,190.3 L663.0,189.3 L661.0,188.2 L659.0,187.0 L657.0,186.8 L655.0,185.2 L653.0,184.9 L651.0,184.1 L649.0,183.8 L647.0,183.6 L645.0,183.4 L643.0,182.6 L641.0,182.5 L639.0,182.4 L637.0,182.5 L635.0,181.4 L633.0,181.3 L631.0,181.2 L629.0,180.4 L627.0,179.4 L625.0,178.8 L623.0,178.3 L621.0,178.0 L619.0,177.0 L617.0,176.3 L615.0,175.1 L613.0,174.7 L611.0,173.5 L609.0,172.0 L607.0,171.1 L605.0,170.7 L603.0,169.2 L601.0,170.8 L599.0,171.5 L597.0,171.6 L595.0,170.9 L593.0,171.2 L591.0,170.2 L589.0,169.8 L587.0,169.4 L585.0,168.4 L583.0,167.5 L581.0,167.0 L579.0,166.3 L577.0,165.7 L575.0,164.7 L573.0,164.7 L571.0,164.7 L569.0,164.3 L567.0,163.7 L565.0,164.1 L563.0,163.6 L561.0,164.7 L559.0,164.4 L557.0,164.6 L555.0,165.4 L553.0,165.8 L551.0,166.0 L549.0,167.5 L547.0,168.0 L545.0,168.5 L543.0,169.5 L541.0,170.1 L539.0,170.8 L537.0,171.5 L535.0,172.7 L533.0,173.6 L531.0,174.5 L529.0,175.0 L527.0,175.3 L525.0,176.5 L523.0,176.9 L521.0,177.8 L519.0,178.9 L517.0,180.1 L515.0,181.6 L513.0,183.2 L511.0,185.8 L509.0,189.4 L507.0,191.5 L505.0,192.4 L503.0,193.5 L501.0,194.4 L499.0,194.7 L497.0,195.1 L495.0,196.3 L493.0,196.9 L491.0,197.4 L489.0,198.3 L487.0,198.7 L485.0,199.8 L483.0,200.7 L481.0,201.3 L479.0,202.3 L477.0,203.1 L475.0,203.5 L473.0,204.1 L471.0,205.4 L469.0,206.4 L467.0,207.5 L465.0,209.3 L463.0,210.0 L461.0,211.4 L459.0,212.7 L457.0,213.5 L455.0,214.5 L453.0,214.5 L451.0,214.5 L449.0,215.9 L447.0,215.9 L445.0,218.2 L443.0,221.8 L441.0,225.1 L439.0,228.1 L437.0,230.1 L435.0,232.2 L433.0,233.5 L431.0,234.8 L429.0,236.0 L427.0,237.3 L425.0,239.3 L423.0,240.4 L421.0,241.1 L419.0,242.1 L417.0,243.2 L415.0,244.9 L413.0,245.5 L411.0,246.1 L409.0,247.5 L407.0,248.6 L405.0,249.1 L403.0,249.7 L401.0,251.1 L399.0,251.8 L397.0,252.9 L395.0,253.2 L393.0,254.4 L391.0,255.5 L389.0,256.9 L387.0,258.3 L385.0,259.5 L383.0,260.7 L381.0,262.0 L379.0,263.1 L377.0,265.1 L375.0,265.9 L373.0,267.2 L371.0,268.7 L369.0,269.1 L367.0,270.1 L365.0,270.9 L363.0,272.8 L361.0,273.0 L359.0,274.9 L357.0,275.5 L355.0,276.6 L353.0,277.8 L351.0,279.4 L349.0,281.0 L347.0,282.5 L345.0,284.2 L343.0,285.1 L341.0,287.4 L339.0,288.7 L337.0,290.9 L335.0,292.9 L333.0,294.3 L331.0,296.3 L329.0,298.8 L327.0,299.9 L325.0,302.3 L323.0,303.7 L321.0,305.6 L319.0,307.2 L317.0,309.7 L315.0,311.2 L313.0,313.1 L311.0,314.5 L309.0,317.3 L307.0,319.0 L305.0,320.2 L303.0,321.8 L301.0,323.8 L299.0,326.2 L297.0,327.2 L295.0,329.6 L293.0,330.6 L291.0,332.6 L289.0,334.4 L287.0,335.7 L285.0,337.7 L283.0,339.0 L281.0,340.6 L279.0,341.8 L277.0,344.0 L275.0,345.8 L273.0,347.1 L271.0,349.3 L269.0,350.6 L267.0,352.7 L265.0,355.1 L263.0,356.8 L261.0,358.8 L259.0,360.4 L257.0,362.5 L255.0,364.0 L253.0,365.4 L251.0,367.5 L249.0,368.4 L247.0,370.0 L245.0,372.0 L243.0,374.1 L241.0,376.2 L239.0,377.8 L237.0,379.9 L235.0,381.7 L233.0,382.7 L231.0,384.7 L229.0,386.6 L227.0,388.3 L225.0,390.9 L223.0,392.4 L221.0,393.7 L219.0,394.2 L217.0,396.3 L215.0,397.3 L213.0,398.4 L211.0,399.0 L209.0,400.1 L207.0,400.3 L205.0,401.7 L203.0,402.4 L201.0,403.1 L199.0,404.0 L197.0,404.3 L195.0,405.3 L193.0,406.5 L191.0,407.7 L189.0,409.2 L187.0,409.3 L185.0,410.1 L183.0,411.2 L181.0,412.8 L179.0,412.8 L177.0,414.0 L175.0,414.3 L173.0,415.0 L171.0,415.8 L169.0,416.5 L167.0,416.7 L165.0,417.6 L163.0,417.7 L161.0,418.1 L159.0,417.8 L157.0,418.2 L155.0,417.8 L153.0,417.6 L151.0,417.3 L149.0,417.3 L147.0,416.3 L145.0,416.1 L143.0,416.3 L141.0,415.5 L139.0,415.6 L137.0,415.4 L135.0,414.9 L133.0,413.9 L131.0,413.5 L129.0,412.9 L127.0,413.3 L125.0,412.2 L123.0,412.6 L121.0,411.9 L119.0,411.2 L117.0,411.1 L115.0,410.9 L113.0,410.0 L111.0,409.4 L109.0,408.2 L107.0,407.6 L105.0,406.7 L103.0,405.4 L101.0,404.3 L99.0,402.8 L97.0,401.4 L95.0,400.5 L93.0,399.3 L91.0,398.3 L89.0,397.3 L87.0,396.2 L85.0,394.5 L83.0,393.3 L81.0,391.7 L79.0,389.2 L77.0,388.3 L75.0,386.8 L73.0,385.4 L71.0,383.1 L69.0,381.9 L67.0,380.5 L65.0,378.8 L63.0,377.7 L61.0,375.7 L59.0,373.5 L57.0,371.4 L55.0,368.6 L53.0,366.3 L51.0,364.7 L49.0,362.1Z" fill="#e5e5e6" clip-path="url(#arcclip)"/>
<rect x="37.5" y="449.6" width="762.5" height="1.7" fill="#7c7c7c"/>
<text x="30.5" y="129.3" font-size="14.4" fill="#adadad" text-anchor="end" textLength="29.5" lengthAdjust="spacingAndGlyphs">20M</text>
<text x="30.5" y="162.3" font-size="14.4" fill="#adadad" text-anchor="end" textLength="25" lengthAdjust="spacingAndGlyphs">18M</text>
<text x="30.5" y="195.3" font-size="14.4" fill="#adadad" text-anchor="end" textLength="25" lengthAdjust="spacingAndGlyphs">16M</text>
<text x="30.5" y="227.8" font-size="14.4" fill="#adadad" text-anchor="end" textLength="25" lengthAdjust="spacingAndGlyphs">14M</text>
<text x="30.5" y="260.3" font-size="14.4" fill="#adadad" text-anchor="end" textLength="25" lengthAdjust="spacingAndGlyphs">12M</text>
<text x="30.5" y="293.3" font-size="14.4" fill="#adadad" text-anchor="end" textLength="25" lengthAdjust="spacingAndGlyphs">10M</text>
<text x="30.5" y="325.8" font-size="14.4" fill="#adadad" text-anchor="end" textLength="19.5" lengthAdjust="spacingAndGlyphs">8M</text>
<text x="30.5" y="358.3" font-size="14.4" fill="#adadad" text-anchor="end" textLength="19.5" lengthAdjust="spacingAndGlyphs">6M</text>
<text x="30.5" y="391.3" font-size="14.4" fill="#adadad" text-anchor="end" textLength="19.5" lengthAdjust="spacingAndGlyphs">4M</text>
<text x="30.5" y="423.8" font-size="14.4" fill="#adadad" text-anchor="end" textLength="19.5" lengthAdjust="spacingAndGlyphs">2M</text>
<text x="30.5" y="456.8" font-size="14.4" fill="#adadad" text-anchor="end" textLength="7.5" lengthAdjust="spacingAndGlyphs">0</text>
<text x="49.0" y="472" font-size="14" fill="#909090" text-anchor="middle" textLength="24.5" lengthAdjust="spacingAndGlyphs">Jan.</text>
<text x="112.0" y="472" font-size="14" fill="#909090" text-anchor="middle" textLength="26" lengthAdjust="spacingAndGlyphs">Feb.</text>
<text x="168.9" y="472" font-size="14" fill="#909090" text-anchor="middle" textLength="39" lengthAdjust="spacingAndGlyphs">March</text>
<text x="231.9" y="472" font-size="14" fill="#909090" text-anchor="middle" textLength="30" lengthAdjust="spacingAndGlyphs">April</text>
<text x="292.8" y="472" font-size="14" fill="#909090" text-anchor="middle" textLength="26.3" lengthAdjust="spacingAndGlyphs">May</text>
<text x="355.8" y="472" font-size="14" fill="#909090" text-anchor="middle" textLength="29.7" lengthAdjust="spacingAndGlyphs">June</text>
<text x="416.8" y="472" font-size="14" fill="#909090" text-anchor="middle" textLength="23.8" lengthAdjust="spacingAndGlyphs">July</text>
<text x="479.8" y="472" font-size="14" fill="#909090" text-anchor="middle" textLength="29.5" lengthAdjust="spacingAndGlyphs">Aug.</text>
<text x="542.8" y="472" font-size="14" fill="#909090" text-anchor="middle" textLength="32.5" lengthAdjust="spacingAndGlyphs">Sept.</text>
<text x="603.7" y="472" font-size="14" fill="#909090" text-anchor="middle" textLength="26" lengthAdjust="spacingAndGlyphs">Oct.</text>
<text x="666.7" y="472" font-size="14" fill="#909090" text-anchor="middle" textLength="27.5" lengthAdjust="spacingAndGlyphs">Nov.</text>
<text x="727.7" y="472" font-size="14" fill="#909090" text-anchor="middle" textLength="27" lengthAdjust="spacingAndGlyphs">Dec.</text>
<text x="49.3" y="491" font-size="14" fill="#909090" text-anchor="middle" textLength="33.5" lengthAdjust="spacingAndGlyphs">2025</text>
<path d="M48.4,245.6 L49.9,245.5 L51.4,246.1 L52.9,246.1 L54.4,246.4 L55.9,245.7 L57.4,244.4 L58.9,243.2 L60.4,241.3 L61.9,240.7 L63.4,239.3 L64.9,238.6 L66.4,238.0 L67.9,237.6 L69.4,236.8 L70.9,236.4 L72.4,236.4 L73.9,235.4 L75.4,235.4 L76.9,235.0 L78.4,234.2 L79.9,234.1 L81.4,233.6 L82.9,233.2 L84.4,232.1 L85.9,231.9 L87.4,231.0 L88.9,230.4 L90.4,230.1 L91.9,229.0 L93.4,228.9 L94.9,228.3 L96.4,227.5 L97.9,227.5 L99.4,226.8 L100.9,226.6 L102.4,226.7 L103.9,228.1 L105.4,229.6 L106.9,231.5 L108.4,231.9 L109.9,231.7 L111.4,231.3 L112.9,230.4 L114.4,230.6 L115.9,230.4 L117.4,230.7 L118.9,230.7 L120.4,231.1 L121.9,231.6 L123.4,231.5 L124.9,231.5 L126.4,230.8 L127.9,230.2 L129.4,229.4 L130.9,228.8 L132.4,227.9 L133.9,227.2 L135.4,225.9 L136.9,225.4 L138.4,224.6 L139.9,224.0 L141.4,223.8 L142.9,224.2 L144.4,224.2 L145.9,224.6 L147.4,225.3 L148.9,225.0 L150.4,224.7 L151.9,224.2 L153.4,223.6 L154.9,222.6 L156.4,221.9 L157.9,221.4 L159.4,221.2 L160.9,221.1 L162.4,221.4 L163.9,221.5 L165.4,222.2 L166.9,222.3 L168.4,222.6 L169.9,221.7 L171.4,221.0 L172.9,219.9 L174.4,219.6 L175.9,219.0 L177.4,218.7 L178.9,218.8 L180.4,219.6 L181.9,219.8 L183.4,219.6 L184.9,219.1 L186.4,218.8 L187.9,218.5 L189.4,218.1 L190.9,217.8 L192.4,217.6 L193.9,217.6 L195.4,216.7 L196.9,216.9 L198.4,216.3 L199.9,216.1 L201.4,216.2 L202.9,215.7 L204.4,215.5 L205.9,214.8 L207.4,214.3 L208.9,214.4 L210.4,214.8 L211.9,215.7 L213.4,216.6 L214.9,216.9 L216.4,217.4 L217.9,217.7 L219.4,218.6 L220.9,218.8 L222.4,219.2 L223.9,219.4 L225.4,219.7 L226.9,220.4 L228.4,220.2 L229.9,220.9 L231.4,220.3 L232.9,220.9 L234.4,220.5 L235.9,220.5 L237.4,221.2 L238.9,221.1 L240.4,221.7 L241.9,221.6 L243.4,221.8 L244.9,222.7 L246.4,222.9 L247.9,223.3 L249.4,223.4 L250.9,223.1 L252.4,223.5 L253.9,223.1 L255.4,222.4 L256.9,222.5 L258.4,222.3 L259.9,223.2 L261.4,223.6 L262.9,223.5 L264.4,223.6 L265.9,224.0 L267.4,224.1 L268.9,223.6 L270.4,223.8 L271.9,224.1 L273.4,223.9 L274.9,224.7 L276.4,224.9 L277.9,225.2 L279.4,226.0 L280.9,226.8 L282.4,227.4 L283.9,228.3 L285.4,228.6 L286.9,229.7 L288.4,230.0 L289.9,230.8 L291.4,231.4 L292.9,231.9 L294.4,232.5 L295.9,233.4 L297.4,234.1 L298.9,234.5 L300.4,234.9 L301.9,235.1 L303.4,235.2 L304.9,236.2 L306.4,236.3 L307.9,236.7 L309.4,236.9 L310.9,237.7 L312.4,238.7 L313.9,239.4 L315.4,240.2 L316.9,240.9 L318.4,241.8 L319.9,243.0 L321.4,243.4 L322.9,244.2 L324.4,244.6 L325.9,245.1 L327.4,245.4 L328.9,245.3 L330.4,245.4 L331.9,245.9 L333.4,246.4 L334.9,247.1 L336.4,247.8 L337.9,248.5 L339.4,248.5 L340.9,249.7 L342.4,250.4 L343.9,251.2 L345.4,251.7 L346.9,252.3 L348.4,253.6 L349.9,254.5 L351.4,255.3 L352.9,256.4 L354.4,257.0 L355.9,257.7 L357.4,258.9 L358.9,259.9 L360.4,260.3 L361.9,261.4 L363.4,262.2 L364.9,262.4 L366.4,263.2 L367.9,263.7 L369.4,264.2 L370.9,265.0 L372.4,266.3 L373.9,268.0 L375.4,269.4 L376.9,270.4 L378.4,271.2 L379.9,272.6 L381.4,273.5 L382.9,273.9 L384.4,275.0 L385.9,275.9 L387.4,276.6 L388.9,277.1 L390.4,277.9 L391.9,279.0 L393.4,279.8 L394.9,281.0 L396.4,282.1 L397.9,283.6 L399.4,284.5 L400.9,285.6 L402.4,286.5 L403.9,287.5 L405.4,288.2 L406.9,289.0 L408.4,290.6 L409.9,291.1 L411.4,291.8 L412.9,293.2 L414.4,294.2 L415.9,294.8 L417.4,296.1 L418.9,296.9 L420.4,298.0 L421.9,298.6 L423.4,299.6 L424.9,301.3 L426.4,302.2 L427.9,302.9 L429.4,304.0 L430.9,304.7 L432.4,306.1 L433.9,306.8 L435.4,308.2 L436.9,309.0 L438.4,310.0 L439.9,311.0 L441.4,311.4 L442.9,312.0 L444.4,312.9 L445.9,313.6 L447.4,314.2 L448.9,315.0 L450.4,316.3 L451.9,317.5 L453.4,318.3 L454.9,319.8 L456.4,321.0 L457.9,321.6 L459.4,323.1 L460.9,324.1 L462.4,325.0 L463.9,326.7 L465.4,327.3 L466.9,328.7 L468.4,329.8 L469.9,331.1 L471.4,331.9 L472.9,332.7 L474.4,333.6 L475.9,334.2 L477.4,335.2 L478.9,335.8 L480.4,336.1 L481.9,337.2 L483.4,338.9 L484.9,340.5 L486.4,342.3 L487.9,343.4 L489.4,344.4 L490.9,344.8 L492.4,346.2 L493.9,347.0 L495.4,347.7 L496.9,348.7 L498.4,348.8 L499.9,349.7 L501.4,350.9 L502.9,351.9 L504.4,352.5 L505.9,353.0 L507.4,353.9 L508.9,354.8 L510.4,355.0 L511.9,355.8 L513.4,356.4 L514.9,357.0 L516.4,357.8 L517.9,358.2 L519.4,358.8 L520.9,359.3 L522.4,360.2 L523.9,360.3 L525.4,361.3 L526.9,361.4 L528.4,361.8 L529.9,362.9 L531.4,362.9 L532.9,363.8 L534.4,364.2 L535.9,364.5 L537.4,364.3 L538.9,364.8 L540.4,364.7 L541.9,365.5 L543.4,365.6 L544.9,365.5 L546.4,365.5 L547.9,365.6 L549.4,366.1 L550.9,366.2 L552.4,366.7 L553.9,366.7 L555.4,366.8 L556.9,366.5 L558.4,366.7 L559.9,366.3 L561.4,365.8 L562.9,366.2 L564.4,365.7 L565.9,365.7 L567.4,365.5 L568.9,365.5 L570.4,365.9 L571.9,365.5 L573.4,365.3 L574.9,365.5 L576.4,365.3 L577.9,365.7 L579.4,365.1 L580.9,365.6 L582.4,364.9 L583.9,365.3 L585.4,364.9 L586.9,364.3 L588.4,364.1 L589.9,363.6 L591.4,363.2 L592.9,362.6 L594.4,362.2 L595.9,362.0 L597.4,361.3 L598.9,360.4 L600.4,359.0 L601.9,358.0 L603.4,357.1 L604.9,355.1 L606.4,354.2 L607.9,352.5 L609.4,351.8 L610.9,350.0 L612.4,349.7 L613.9,348.9 L615.4,349.3 L616.9,350.5 L618.4,352.1 L619.9,351.9 L621.4,351.1 L622.9,350.4 L624.4,349.7 L625.9,348.2 L627.4,347.5 L628.9,346.2 L630.4,345.2 L631.9,344.5 L633.4,343.3 L634.9,341.7 L636.4,340.3 L637.9,338.8 L639.4,337.5 L640.9,335.6 L642.4,333.6 L643.9,331.6 L645.4,330.0 L646.9,328.3 L648.4,326.7 L649.9,325.1 L651.4,323.7 L652.9,322.5 L654.4,322.0 L655.9,320.8 L657.4,320.3 L658.9,319.1 L660.4,318.9 L661.9,318.0 L663.4,317.8 L664.9,317.3 L666.4,316.7 L667.9,316.3 L669.4,316.9 L670.9,316.4 L672.4,316.1 L673.9,314.6 L675.4,313.3 L676.9,312.2 L678.4,310.2 L679.9,308.5 L681.4,307.1 L682.9,305.9 L684.4,304.4 L685.9,304.2 L687.4,304.0 L688.9,304.0 L690.4,303.7 L691.9,304.2 L693.4,304.0 L694.9,303.4 L696.4,302.1 L697.9,301.4 L699.4,300.2 L700.9,299.7 L702.4,298.4 L703.9,298.2 L705.4,297.5 L706.9,296.4 L708.4,295.6 L709.9,294.9 L711.4,294.3 L712.9,293.4 L714.4,293.6 L715.9,292.9 L717.4,292.6 L718.9,292.4 L720.4,292.2 L721.9,292.2 L723.4,291.1 L724.9,290.3 L726.4,289.5 L727.9,287.6 L729.4,285.8 L730.9,284.4 L732.4,282.6 L733.9,281.0 L735.4,279.8 L736.9,278.4 L738.4,278.2 L739.9,277.4 L741.4,276.3 L742.9,275.8 L744.4,275.5 L745.9,274.9 L747.4,274.0 L748.9,273.0 L750.4,272.1 L751.9,270.6 L753.4,269.4 L754.9,267.9 L756.4,265.7 L757.9,264.3 L759.4,262.7 L760.9,260.8 L762.4,259.9 L763.9,258.7 L765.4,257.2 L766.9,256.2 L768.4,255.4 L769.9,254.2 L771.4,253.2 L772.9,252.6 L774.4,251.6 L775.9,250.3 L777.4,249.1 L778.9,248.0 L780.4,246.9 L781.9,246.3 L783.4,245.3 L784.9,244.9 L786.4,244.8 L787.9,246.1 L789.0,246.7" fill="none" stroke="#f5ab61" stroke-width="2.3" stroke-linejoin="round" stroke-linecap="round"/>
<path d="M48.3,328.9 L49.8,330.6 L51.3,332.7 L52.8,334.7 L54.3,337.2 L55.8,339.6 L57.3,341.5 L58.8,343.7 L60.3,345.5 L61.8,347.7 L63.3,349.7 L64.8,351.1 L66.3,352.7 L67.8,354.6 L69.3,355.8 L70.8,357.5 L72.3,359.3 L73.8,362.1 L75.3,366.2 L76.8,368.9 L78.3,370.2 L79.8,372.2 L81.3,373.3 L82.8,374.6 L84.3,375.3 L85.8,376.5 L87.3,377.8 L88.8,378.7 L90.3,379.5 L91.8,380.7 L93.3,381.5 L94.8,382.8 L96.3,383.2 L97.8,384.2 L99.3,385.6 L100.8,386.4 L102.3,388.0 L103.8,389.6 L105.3,390.7 L106.8,392.0 L108.3,393.6 L109.8,395.0 L111.3,396.2 L112.8,397.5 L114.3,398.9 L115.8,400.4 L117.3,401.8 L118.8,403.1 L120.3,404.4 L121.8,405.5 L123.3,406.9 L124.8,408.1 L126.3,408.8 L127.8,409.4 L129.3,410.0 L130.8,410.2 L132.3,411.0 L133.8,411.1 L135.3,411.5 L136.8,411.9 L138.3,412.2 L139.8,412.3 L141.3,412.6 L142.8,412.8 L144.3,413.2 L145.8,413.3 L147.3,413.6 L148.8,413.4 L150.3,414.0 L151.8,414.7 L153.3,414.6 L154.8,415.3 L156.3,415.6 L157.8,415.8 L159.3,416.5 L160.8,416.0 L162.3,416.1 L163.8,415.2 L165.3,414.6 L166.8,414.5 L168.3,413.7 L169.8,412.9 L171.3,412.7 L172.8,412.3 L174.3,412.1 L175.8,411.2 L177.3,410.8 L178.8,410.7 L180.3,409.8 L181.8,408.5 L183.3,407.4 L184.8,406.1 L186.3,404.9 L187.8,403.5 L189.3,402.3 L190.8,401.0 L192.3,399.5 L193.8,398.5 L195.3,397.5 L196.8,396.6 L198.3,395.7 L199.8,395.2 L201.3,394.5 L202.8,394.1 L204.3,392.9 L205.8,392.8 L207.3,391.5 L208.8,391.2 L210.3,390.2 L211.8,389.0 L213.3,388.1 L214.8,386.4 L216.3,384.7 L217.8,383.3 L219.3,381.8 L220.8,380.1 L222.3,378.5 L223.8,377.1 L225.3,375.7 L226.8,374.4 L228.3,372.7 L229.8,371.4 L231.3,370.2 L232.8,368.7 L234.3,367.4 L235.8,366.5 L237.3,365.3 L238.8,364.0 L240.3,362.9 L241.8,361.7 L243.3,360.7 L244.8,359.6 L246.3,358.8 L247.8,357.6 L249.3,356.0 L250.8,355.1 L252.3,353.2 L253.8,351.9 L255.3,350.2 L256.8,348.6 L258.3,346.3 L259.8,344.7 L261.3,343.4 L262.8,341.2 L264.3,339.7 L265.8,338.7 L267.3,337.3 L268.8,336.3 L270.3,334.9 L271.8,333.5 L273.3,332.6 L274.8,331.1 L276.3,329.9 L277.8,328.9 L279.3,327.5 L280.8,326.3 L282.3,325.3 L283.8,323.9 L285.3,323.2 L286.8,321.9 L288.3,320.6 L289.8,319.1 L291.3,318.0 L292.8,316.8 L294.3,315.7 L295.8,314.4 L297.3,313.3 L298.8,312.1 L300.3,310.5 L301.8,309.1 L303.3,307.8 L304.8,306.6 L306.3,304.7 L307.8,303.5 L309.3,302.3 L310.8,300.6 L312.3,299.5 L313.8,299.0 L315.3,297.9 L316.8,296.7 L318.3,295.5 L319.8,295.2 L321.3,294.2 L322.8,293.4 L324.3,292.7 L325.8,291.7 L327.3,290.4 L328.8,289.1 L330.3,287.8 L331.8,286.6 L333.3,285.2 L334.8,283.8 L336.3,282.5 L337.8,281.7 L339.3,280.5 L340.8,279.1 L342.3,278.3 L343.8,276.8 L345.3,275.3 L346.8,274.6 L348.3,274.0 L349.8,273.0 L351.3,272.9 L352.8,272.4 L354.3,272.5 L355.8,272.2 L357.3,270.5 L358.8,268.2 L360.3,264.9 L361.8,262.7 L363.3,261.3 L364.8,260.2 L366.3,260.1 L367.8,259.7 L369.3,259.7 L370.8,258.9 L372.3,258.3 L373.8,257.1 L375.3,255.0 L376.8,252.6 L378.3,250.5 L379.8,249.2 L381.3,248.2 L382.8,247.6 L384.3,246.4 L385.8,243.9 L387.3,242.0 L388.8,239.8 L390.3,238.3 L391.8,237.4 L393.3,235.8 L394.8,234.9 L396.3,233.5 L397.8,232.3 L399.3,231.3 L400.8,230.2 L402.3,229.9 L403.8,228.8 L405.3,227.9 L406.8,227.2 L408.3,226.3 L409.8,225.2 L411.3,224.8 L412.8,223.6 L414.3,222.8 L415.8,221.4 L417.3,220.5 L418.8,219.2 L420.3,218.1 L421.8,217.8 L423.3,216.9 L424.8,215.7 L426.3,215.4 L427.8,214.6 L429.3,213.6 L430.8,213.2 L432.3,212.9 L433.8,212.0 L435.3,211.7 L436.8,210.6 L438.3,210.1 L439.8,209.7 L441.3,208.8 L442.8,208.3 L444.3,208.2 L445.8,207.5 L447.3,207.2 L448.8,206.3 L450.3,205.6 L451.8,205.0 L453.3,204.0 L454.8,203.6 L456.3,201.9 L457.8,200.6 L459.3,198.6 L460.8,196.9 L462.3,194.2 L463.8,191.8 L465.3,190.1 L466.8,189.6 L468.3,190.1 L469.8,190.0 L471.3,190.2 L472.8,190.3 L474.3,190.0 L475.8,189.3 L477.3,188.1 L478.8,187.3 L480.3,185.8 L481.8,184.5 L483.3,183.9 L484.8,182.9 L486.3,182.6 L487.8,182.7 L489.3,182.1 L490.8,182.2 L492.3,182.3 L493.8,182.0 L495.3,181.1 L496.8,180.5 L498.3,179.8 L499.8,178.4 L501.3,177.6 L502.8,175.8 L504.3,175.2 L505.8,173.8 L507.3,172.8 L508.8,172.4 L510.3,172.0 L511.8,172.3 L513.3,172.0 L514.8,172.4 L516.3,172.0 L517.8,171.3 L519.3,170.5 L520.8,169.8 L522.3,168.5 L523.8,167.8 L525.3,166.1 L526.8,165.2 L528.3,164.1 L529.8,162.9 L531.3,162.4 L532.8,161.3 L534.3,160.8 L535.8,160.0 L537.3,159.2 L538.8,158.7 L540.3,158.0 L541.8,157.5 L543.3,157.6 L544.8,156.9 L546.3,156.9 L547.8,156.4 L549.3,156.6 L550.8,156.3 L552.3,156.3 L553.8,156.1 L555.3,155.9 L556.8,155.9 L558.3,155.6 L559.8,155.2 L561.3,155.0 L562.8,153.7 L564.3,152.7 L565.8,152.2 L567.3,151.7 L568.8,151.8 L570.3,151.9 L571.8,151.5 L573.3,151.7 L574.8,151.5 L576.3,151.9 L577.8,152.0 L579.3,152.1 L580.8,153.0 L582.3,154.3 L583.8,154.9 L585.3,154.6 L586.8,155.0 L588.3,154.7 L589.8,154.9 L591.3,154.6 L592.8,154.5 L594.3,155.2 L595.8,155.7 L597.3,156.7 L598.8,157.2 L600.3,157.8 L601.8,158.2 L603.3,158.4 L604.8,158.6 L606.3,158.7 L607.8,158.4 L609.3,158.5 L610.8,158.7 L612.3,158.3 L613.8,158.7 L615.3,158.5 L616.8,158.7 L618.3,158.5 L619.8,158.9 L621.3,159.5 L622.8,159.8 L624.3,160.2 L625.8,161.4 L627.3,162.1 L628.8,162.4 L630.3,162.8 L631.8,163.9 L633.3,164.3 L634.8,164.5 L636.3,165.1 L637.8,165.5 L639.3,166.5 L640.8,166.5 L642.3,167.3 L643.8,167.5 L645.3,167.2 L646.8,167.9 L648.3,168.1 L649.8,168.9 L651.3,169.7 L652.8,170.3 L654.3,171.4 L655.8,173.2 L657.3,174.0 L658.8,175.2 L660.3,175.7 L661.8,176.3 L663.3,176.8 L664.8,177.1 L666.3,177.5 L667.8,177.9 L669.3,179.0 L670.8,179.9 L672.3,181.3 L673.8,183.2 L675.3,184.2 L676.8,186.0 L678.3,186.3 L679.8,186.9 L681.3,186.8 L682.8,186.7 L684.3,187.6 L685.8,188.9 L687.3,189.9 L688.8,191.2 L690.3,192.4 L691.8,194.0 L693.3,196.2 L694.8,198.3 L696.3,200.2 L697.8,202.2 L699.3,204.0 L700.8,206.4 L702.3,208.4 L703.8,210.1 L705.3,212.2 L706.8,214.6 L708.3,216.7 L709.8,219.0 L711.3,220.2 L712.8,221.6 L714.3,223.4 L715.8,224.3 L717.3,226.1 L718.8,227.6 L720.3,229.6 L721.8,231.2 L723.3,233.3 L724.8,235.0 L726.3,237.6 L727.8,240.0 L729.3,242.5 L730.8,245.6 L732.3,248.5 L733.8,250.1 L735.3,252.0 L736.8,253.7 L738.3,255.2 L739.8,256.8 L741.3,258.5 L742.8,260.0 L744.3,262.0 L745.8,263.5 L747.3,265.2 L748.8,267.6 L750.3,270.6 L751.8,273.7 L753.3,276.9 L754.8,280.3 L756.3,283.8 L757.8,288.0 L759.3,291.2 L760.8,293.9 L762.3,297.5 L763.8,300.8 L765.3,303.6 L766.8,306.3 L768.3,309.4 L769.8,312.1 L771.3,314.4 L772.8,316.9 L774.3,318.7 L775.8,321.4 L777.3,323.3 L778.8,325.2 L780.3,327.5 L781.8,329.3 L783.3,331.2 L784.8,333.5 L786.3,335.7 L787.8,337.9 L789.0,340.2" fill="none" stroke="#dd5a18" stroke-width="2.9" stroke-linejoin="round" stroke-linecap="round"/>
<path d="M326,171 L167,394" stroke="#606060" stroke-width="1.45" fill="none"/>
<path d="M180,157.8 L126.8,211.3" stroke="#606060" stroke-width="1.5" fill="none"/>
<path d="M126.8,204.3 L126.6,211.5 L133.8,211.3" stroke="#606060" stroke-width="1.5" fill="none" stroke-linejoin="miter"/>
<text x="517" y="139.3" font-size="16" fill="#5a5a5a" text-anchor="end" textLength="345" lengthAdjust="spacingAndGlyphs">Combined sea ice cover in Feb fell to the lowest</text>
<text x="517" y="160.5" font-size="16" fill="#5a5a5a" text-anchor="end" textLength="323" lengthAdjust="spacingAndGlyphs">value in satellite records since the late 1970s</text>
<text x="1.2" y="24.3" font-size="21.5" font-weight="bold" fill="#3f3f3f" textLength="691.5" lengthAdjust="spacingAndGlyphs">Combined sea ice cover in both poles fell to a record low in February</text>
<text x="1.3" y="54.6" font-size="18" fill="#606060" textLength="211.3" lengthAdjust="spacingAndGlyphs">Data in square kilometres</text>
<rect x="1.5" y="87.15" width="17.7" height="2.5" rx="1.2" fill="#f4ab62"/>
<text x="23.2" y="93.8" font-size="17" fill="#6a6a6a" textLength="102.3" lengthAdjust="spacingAndGlyphs">Arctic in 2025</text>
<rect x="136.1" y="86.9" width="18.1" height="3" rx="1.5" fill="#dd5c1c"/>
<text x="158.2" y="93.8" font-size="17" fill="#6a6a6a" textLength="127.6" lengthAdjust="spacingAndGlyphs">Antarctic in 2025</text>
</svg>
</body></html>
